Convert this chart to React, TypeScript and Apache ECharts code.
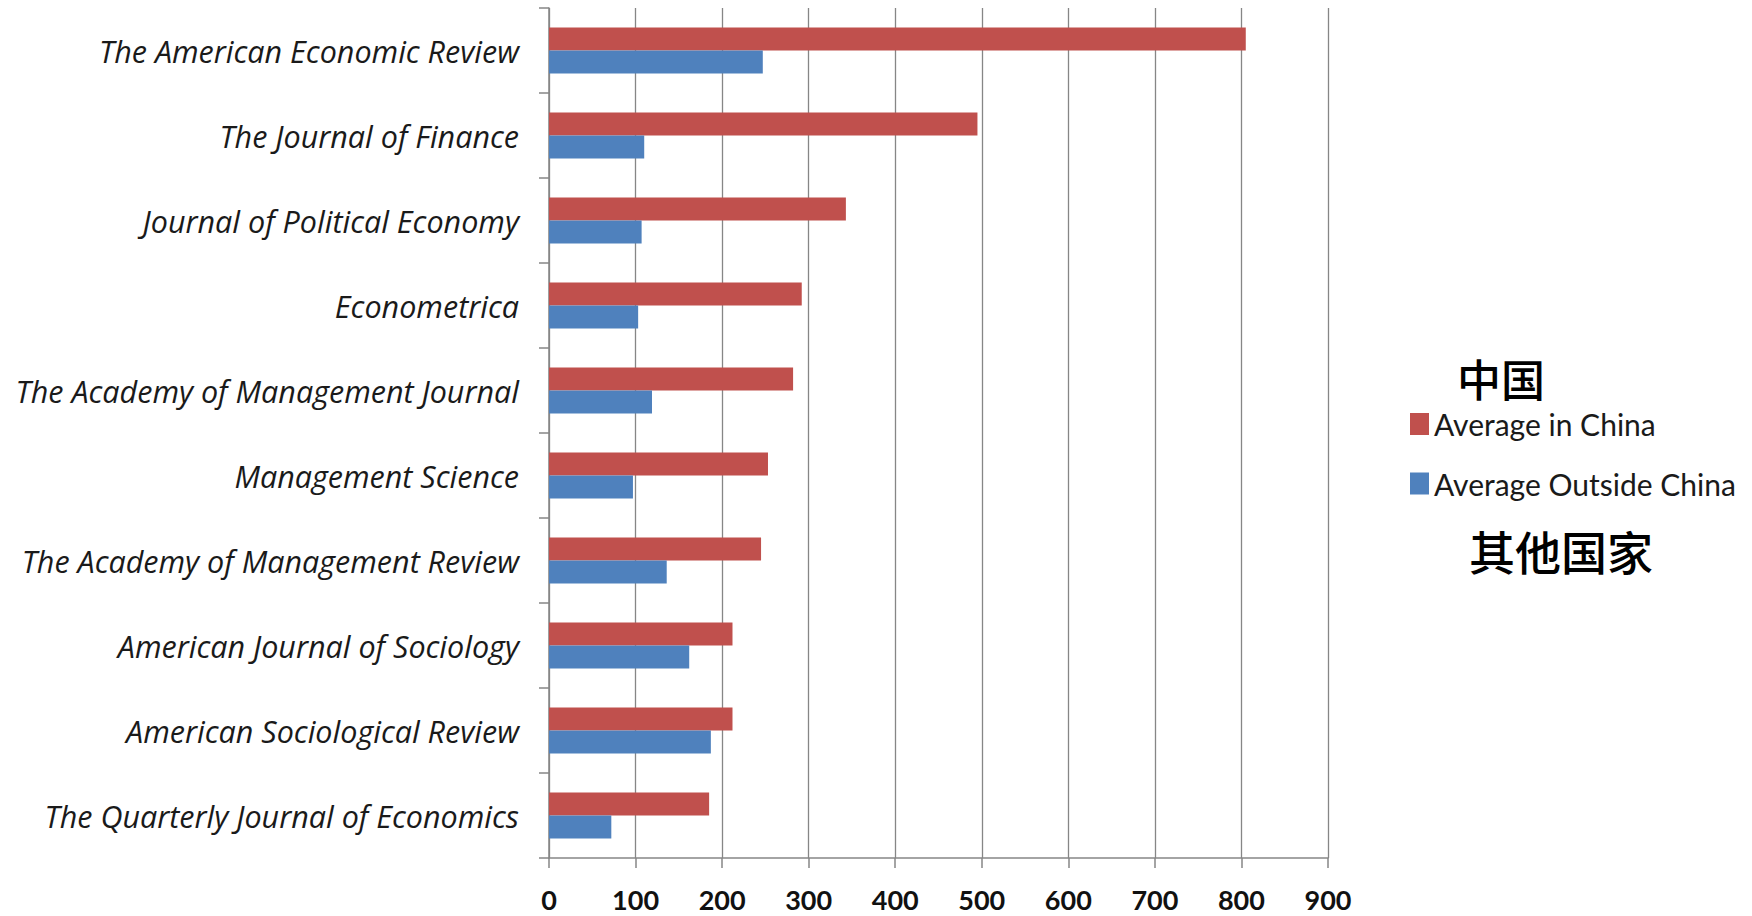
import React, { useEffect, useRef } from "react";
import * as echarts from "echarts";

const journals = [
  "The American Economic Review",
  "The Journal of Finance",
  "Journal of Political Economy",
  "Econometrica",
  "The Academy of Management Journal",
  "Management Science",
  "The Academy of Management Review",
  "American Journal of Sociology",
  "American Sociological Review",
  "The Quarterly Journal of Economics",
];

const averageInChina = [805, 495, 343, 292, 282, 253, 245, 212, 212, 185];
const averageOutsideChina = [247, 110, 107, 103, 119, 97, 136, 162, 187, 72];

const xTicks = [0, 100, 200, 300, 400, 500, 600, 700, 800, 900];

const seriesNames = ["Average in China", "Average Outside China"];
const chinaLabel = "中国";
const otherLabel = "其他国家";

export default function App() {
  const ref = useRef<HTMLDivElement>(null);
  useEffect(() => {
    if (!ref.current) return;
    const chart = echarts.init(ref.current, null, { renderer: "svg" });
    const gray = "#868686";
    chart.setOption({
      animation: false,
      backgroundColor: "#ffffff",
      grid: { left: 549, right: 424, top: 8, bottom: 58, containLabel: false },
      xAxis: {
        type: "value",
        min: xTicks[0],
        max: xTicks[xTicks.length - 1],
        interval: 100,
        axisLine: { show: true, lineStyle: { color: gray, width: 1.5 } },
        axisTick: { show: true, length: 10, lineStyle: { color: gray, width: 1.5 } },
        splitLine: { show: true, lineStyle: { color: gray, width: 1.3 } },
        axisLabel: {
          margin: 28,
          color: "#111111",
          fontFamily: "Lato",
          fontWeight: "bold",
          fontSize: 27,
        },
      },
      yAxis: {
        type: "category",
        inverse: true,
        data: journals,
        axisLine: { show: true, lineStyle: { color: gray, width: 1.5 } },
        axisTick: { show: true, length: 10, alignWithLabel: false, lineStyle: { color: gray, width: 1.5 } },
        splitLine: { show: false },
        axisLabel: {
          margin: 30,
          color: "#1a1a1a",
          fontFamily: "Open Sans",
          fontStyle: "italic",
          fontSize: 30.5,
        },
      },
      legend: {
        orient: "vertical",
        left: 1405,
        top: 404,
        itemWidth: 19,
        itemHeight: 22,
        itemGap: 29.5,
        icon: "rect",
        textStyle: { fontFamily: "Lato", fontSize: 30, color: "#1a1a1a" },
        data: seriesNames,
      },
      series: [
        {
          name: seriesNames[0],
          type: "bar",
          data: averageInChina,
          barWidth: 23,
          barGap: "0%",
          itemStyle: { color: "#C0504D" },
        },
        {
          name: seriesNames[1],
          type: "bar",
          data: averageOutsideChina,
          barWidth: 23,
          barGap: "0%",
          itemStyle: { color: "#4F81BD" },
        },
      ],
      graphic: [
        {
          type: "text",
          left: 1457,
          top: 356,
          style: {
            text: chinaLabel,
            fontFamily: "Noto Sans CJK SC",
            fontWeight: 500,
            fontSize: 44,
            fill: "#000000",
          },
        },
        {
          type: "text",
          left: 1469,
          top: 527,
          style: {
            text: otherLabel,
            fontFamily: "Noto Sans CJK SC",
            fontWeight: 500,
            fontSize: 46,
            fill: "#000000",
          },
        },
      ],
    });
    return () => chart.dispose();
  }, []);
  return (
    <div
      ref={ref}
      style={{ position: "fixed", left: 0, top: 0, width: 1752, height: 916 }}
    />
  );
}
